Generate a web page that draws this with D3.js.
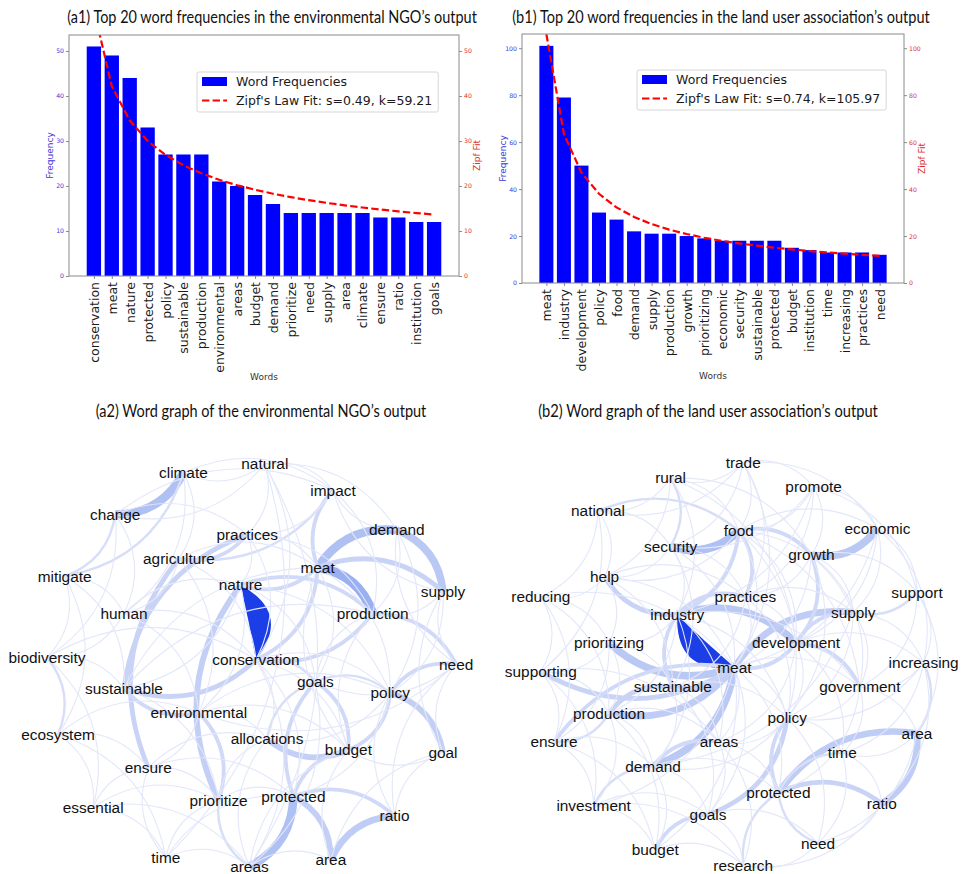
<!DOCTYPE html>
<html><head><meta charset="utf-8">
<script src="https://cdn.jsdelivr.net/npm/d3@7"></script>
<style>body{margin:0;background:#fff}svg{display:block}</style>
</head><body><svg id="c" width="961" height="874"></svg>
<script>
// ---------------- DATA ----------------
const wordsA = ["conservation","meat","nature","protected","policy","sustainable","production","environmental","areas","budget","demand","prioritize","need","supply","area","climate","ensure","ratio","institution","goals"];
const freqA  = [51,49,44,33,27,27,27,21,20,18,16,14,14,14,14,14,13,13,12,12];
const wordsB = ["meat","industry","development","policy","food","demand","supply","production","growth","prioritizing","economic","security","sustainable","protected","budget","institution","time","increasing","practices","need"];
const freqB  = [101,79,50,30,27,22,21,21,20,19,18,18,18,18,15,14,13,13,13,12];
const zipfS = [0.49, 0.74];
const zipfK = [59.21, 105.97];
const ticksA = [0,10,20,30,40,50];
const ticksB = [0,20,40,60,80,100];
const titles = ["(a1) Top 20 word frequencies in the environmental NGO\u2019s output",
                "(b1) Top 20 word frequencies in the land user association\u2019s output",
                "(a2) Word graph of the environmental NGO\u2019s output",
                "(b2) Word graph of the land user association\u2019s output"];

// graph A nodes: [word, layoutX, layoutY] in [-1,1]
const nodesA = [["climate",-0.28,0.86],["natural",0.09,0.90],["impact",0.40,0.78],["change",-0.59,0.67],
["demand",0.69,0.60],["practices",0.01,0.58],["agriculture",-0.30,0.47],["meat",0.33,0.43],["mitigate",-0.82,0.39],
["supply",0.90,0.32],["nature",-0.02,0.35],["human",-0.55,0.22],["production",0.58,0.22],["biodiversity",-0.90,0.02],
["conservation",0.05,0.01],["need",0.96,-0.01],["goals",0.32,-0.09],["sustainable",-0.55,-0.12],["policy",0.66,-0.14],
["environmental",-0.21,-0.23],["ecosystem",-0.85,-0.33],["allocations",0.10,-0.35],["budget",0.47,-0.40],["goal",0.90,-0.41],
["ensure",-0.44,-0.48],["prioritize",-0.12,-0.63],["protected",0.22,-0.61],["essential",-0.69,-0.66],["ratio",0.68,-0.70],
["time",-0.36,-0.89],["areas",0.02,-0.93],["area",0.39,-0.90]];
const edgesA = [["nature","conservation",20],["climate","change",8],["meat","production",10],["meat","demand",8],
["demand","supply",7],["meat","supply",4],["protected","areas",8],["area","ratio",6],["protected","area",5],
["protected","ratio",3],["policy","goal",5],["prioritize","nature",5],["budget","allocations",5],["sustainable","practices",4],
["ensure","agriculture",4],["environmental","sustainable",3],["conservation","sustainable",4],["goals","budget",3],
["meat","impact",3],["production","need",3],["meat","nature",3],["production","conservation",3],["meat","conservation",3],
["nature","production",3],["biodiversity","ecosystem",2],["change","mitigate",2],["climate","mitigate",2],["policy","need",3],
["policy","budget",3],["protected","goals",3],["protected","budget",3],["areas","prioritize",2],["practices","agriculture",3],
["impact","agriculture",2],["conservation","goals",2],["environmental","prioritize",3],["goals","policy",2],["allocations","goals",2],
["natural","impact",1],["natural","climate",1],["natural","practices",1],["natural","conservation",1],["natural","change",1],
["natural","demand",1],["natural","areas",1],["natural","time",1],["climate","human",1],["climate","impact",1],["climate","agriculture",1],
["change","human",1],["change","biodiversity",1],["change","impact",1],["change","practices",1],["mitigate","biodiversity",1],
["mitigate","human",1],["mitigate","ecosystem",1],["mitigate","sustainable",1],["human","biodiversity",1],["human","environmental",1],
["human","nature",1],["human","conservation",1],["biodiversity","conservation",1],["biodiversity","essential",1],["biodiversity","sustainable",1],
["ecosystem","essential",1],["ecosystem","environmental",1],["ecosystem","ensure",1],["ecosystem","time",1],["essential","time",1],
["essential","ensure",1],["essential","areas",1],["essential","prioritize",1],["time","areas",1],["time","prioritize",1],["time","ensure",1],
["time","protected",1],["areas","area",1],["areas","allocations",1],["areas","budget",1],["area","goal",1],["area","budget",1],
["ratio","goal",1],["ratio","policy",1],["ratio","need",1],["goal","need",1],["goal","budget",1],["goal","supply",1],["need","supply",1],
["need","demand",1],["need","goals",1],["need","environmental",1],["supply","production",1],["supply","policy",1],["supply","impact",1],
["demand","production",1],["demand","impact",1],["demand","policy",1],["impact","production",1],["impact","practices",1],
["practices","meat",1],["practices","conservation",1],["practices","production",1],["practices","nature",1],["agriculture","meat",1],
["agriculture","conservation",1],["agriculture","human",1],["agriculture","environmental",1],["nature","sustainable",1],
["nature","environmental",1],["nature","goals",1],["nature","policy",1],["conservation","policy",1],["conservation","allocations",1],
["conservation","budget",1],["conservation","areas",1],["conservation","protected",1],["environmental","allocations",1],
["environmental","policy",1],["environmental","ensure",1],["environmental","budget",1],["sustainable","prioritize",1],
["sustainable","production",1],["sustainable","meat",1],["goals","production",1],["goals","areas",1],["policy","allocations",1],
["policy","protected",1],["budget","production",1],["budget","meat",1],["ensure","prioritize",1],["ensure","protected",1],
["ensure","allocations",1],["prioritize","protected",1],["prioritize","allocations",1],["meat","goals",1],["meat","policy",1]];

const nodesB = [["trade",0.06,0.92],["rural",-0.27,0.85],["promote",0.38,0.81],["national",-0.60,0.70],["food",0.04,0.61],
["economic",0.67,0.62],["security",-0.27,0.54],["growth",0.37,0.50],["help",-0.57,0.40],["reducing",-0.86,0.31],
["support",0.85,0.33],["practices",0.07,0.31],["industry",-0.24,0.23],["supply",0.56,0.24],["prioritizing",-0.55,0.10],
["development",0.30,0.10],["increasing",0.88,0.01],["supporting",-0.86,-0.03],["meat",0.02,-0.01],["sustainable",-0.26,-0.10],
["government",0.59,-0.10],["production",-0.55,-0.22],["policy",0.26,-0.24],["ensure",-0.80,-0.35],["areas",-0.05,-0.35],
["area",0.85,-0.31],["time",0.51,-0.40],["demand",-0.35,-0.46],["protected",0.22,-0.58],["investment",-0.62,-0.64],
["goals",-0.10,-0.68],["ratio",0.69,-0.63],["need",0.40,-0.81],["budget",-0.34,-0.84],["research",0.06,-0.91]];
const edgesB = [["meat","industry",20],["food","security",8],["economic","growth",7],["industry","development",7],
["meat","supply",6],["meat","prioritizing",7],["meat","production",6],["meat","demand",7],["meat","sustainable",5],
["protected","area",6],["area","ratio",6],["protected","ratio",4],["policy","goals",4],["meat","supporting",4],
["industry","help",4],["ensure","meat",3],["production","sustainable",4],["budget","goals",3],["demand","areas",3],
["development","government",3],["development","supply",3],["food","growth",3],["food","practices",3],["food","industry",3],
["growth","development",3],["rural","security",2],["protected","time",2],["protected","policy",3],["increasing","area",2],
["support","supply",2],["need","protected",2],["research","protected",2],["investment","demand",2],["national","food",2],
["industry","practices",3],["development","meat",3],["sustainable","industry",3],["production","ensure",2],
["trade","rural",1],["trade","promote",1],["trade","food",1],["trade","security",1],["trade","practices",1],["trade","economic",1],
["trade","national",1],["trade","meat",1],["rural","national",1],["rural","food",1],["rural","help",1],["rural","industry",1],
["rural","development",1],["rural","growth",1],["promote","food",1],["promote","growth",1],["promote","economic",1],
["promote","practices",1],["promote","security",1],["promote","industry",1],["promote","support",1],["national","security",1],
["national","help",1],["national","reducing",1],["national","supporting",1],["food","economic",1],["food","supply",1],
["food","development",1],["food","meat",1],["food","help",1],["food","government",1],["food","policy",1],["economic","supply",1],
["economic","support",1],["economic","development",1],["economic","meat",1],["economic","increasing",1],["security","help",1],
["security","industry",1],["security","meat",1],["security","practices",1],["security","sustainable",1],["growth","supply",1],
["growth","meat",1],["growth","practices",1],["growth","government",1],["growth","support",1],["growth","policy",1],
["help","reducing",1],["help","prioritizing",1],["help","meat",1],["help","sustainable",1],["help","practices",1],
["reducing","prioritizing",1],["reducing","supporting",1],["reducing","meat",1],["reducing","production",1],["reducing","ensure",1],
["support","increasing",1],["support","government",1],["support","area",1],["practices","meat",1],["practices","development",1],
["practices","sustainable",1],["practices","supply",1],["practices","policy",1],["industry","prioritizing",1],["industry","production",1],
["industry","policy",1],["industry","areas",1],["industry","demand",1],["industry","government",1],["supply","government",1],
["supply","increasing",1],["supply","demand",1],["supply","policy",1],["prioritizing","supporting",1],["prioritizing","sustainable",1],
["prioritizing","production",1],["prioritizing","ensure",1],["development","policy",1],["development","areas",1],
["development","increasing",1],["development","time",1],["increasing","government",1],["increasing","ratio",1],["increasing","time",1],
["increasing","policy",1],["supporting","production",1],["supporting","ensure",1],["supporting","investment",1],["supporting","areas",1],
["meat","government",1],["meat","policy",1],["meat","areas",1],["meat","goals",1],["meat","budget",1],["meat","protected",1],
["meat","investment",1],["sustainable","areas",1],["sustainable","demand",1],["sustainable","goals",1],["sustainable","policy",1],
["government","policy",1],["government","time",1],["government","area",1],["government","protected",1],["production","demand",1],
["production","investment",1],["production","areas",1],["production","budget",1],["policy","areas",1],["policy","time",1],
["policy","need",1],["policy","demand",1],["ensure","investment",1],["ensure","demand",1],["ensure","budget",1],["areas","protected",1],
["areas","goals",1],["areas","research",1],["area","time",1],["area","need",1],["time","ratio",1],["time","need",1],["demand","goals",1],
["demand","budget",1],["demand","protected",1],["investment","budget",1],["investment","goals",1],["investment","research",1],
["goals","research",1],["goals","need",1],["ratio","need",1],["ratio","research",1],["need","research",1],["budget","research",1]];

// ---------------- DRAWING ----------------
const svg = d3.select("#c");
svg.append("rect").attr("width",961).attr("height",874).attr("fill","#fff");
const BLUE_T = "#3a3ad6", RED_T = "#d83232";

function fitTitle(txt, cx, by, target, fs){
  const t = svg.append("text").attr("x",0).attr("y",0).attr("text-anchor","middle")
    .attr("font-family","Lato, 'Open Sans', sans-serif").attr("font-size",fs).attr("fill","#111").text(txt);
  const w = t.node().getComputedTextLength();
  t.attr("transform",`translate(${cx},${by}) scale(${target/w},1)`);
}

function barChart(o){
  const g = svg.append("g");
  const x = d3.scaleLinear().domain([-1.39,20.39]).range([o.x0,o.x1]);
  const y = d3.scaleLinear().domain([0,d3.max(o.freq)*1.05]).range([o.y1,o.y0]);
  const cid = "clip"+o.id;
  svg.append("clipPath").attr("id",cid).append("rect")
    .attr("x",o.x0).attr("y",o.y0).attr("width",o.x1-o.x0).attr("height",o.y1-o.y0);
  g.selectAll("rect.bar").data(o.freq).join("rect").attr("class","bar")
    .attr("x",(d,i)=>x(i-0.4)).attr("width",x(0.8)-x(0))
    .attr("y",d=>y(d)).attr("height",d=>y(0)-y(d)).attr("fill","#0000ff");
  const zd = o.freq.map((d,i)=>[i, o.k/Math.pow(i+1,o.s)]);
  g.append("path").attr("clip-path","url(#"+cid+")")
    .attr("d", d3.line().x(d=>x(d[0])).y(d=>y(d[1]))(zd))
    .attr("fill","none").attr("stroke","#ff0000").attr("stroke-width",2.2).attr("stroke-dasharray","7.4,3.2");
  g.append("rect").attr("x",o.x0).attr("y",o.y0).attr("width",o.x1-o.x0).attr("height",o.y1-o.y0)
    .attr("fill","none").attr("stroke","#8a8a8a").attr("stroke-width",1);
  const la = g.append("g").attr("transform",`translate(${o.x0},0)`)
    .call(d3.axisLeft(y).tickValues(o.ticks).tickSize(3).tickPadding(2));
  la.select(".domain").remove();
  la.selectAll("line").attr("stroke","#8a8a8a");
  la.selectAll("text").attr("fill",BLUE_T).attr("font-size",6.2).attr("font-family","DejaVu Sans");
  const ra = g.append("g").attr("transform",`translate(${o.x1},0)`)
    .call(d3.axisRight(y).tickValues(o.ticks).tickSize(3).tickPadding(2));
  ra.select(".domain").remove();
  ra.selectAll("line").attr("stroke","#8a8a8a");
  ra.selectAll("text").attr("fill",RED_T).attr("font-size",6.2).attr("font-family","DejaVu Sans");
  const ba = g.append("g").attr("transform",`translate(0,${o.y1})`)
    .call(d3.axisBottom(x).tickValues(d3.range(o.words.length)).tickSize(3).tickFormat(i=>o.words[i]));
  ba.select(".domain").remove();
  ba.selectAll("line").attr("stroke","#8a8a8a");
  ba.selectAll("text").attr("transform","rotate(-90)").attr("x",-6).attr("y",0).attr("dy","0.36em")
    .attr("text-anchor","end").attr("font-size",12.5).attr("font-family","DejaVu Sans").attr("fill","#1a1a1a");
  const my = (o.y0+o.y1)/2;
  g.append("text").attr("transform",`translate(${o.x0-16},${my}) rotate(-90)`).attr("text-anchor","middle")
    .attr("font-family","DejaVu Sans").attr("font-size",9).attr("fill",BLUE_T).text("Frequency");
  g.append("text").attr("transform",`translate(${o.x1+21},${my}) rotate(-90)`).attr("text-anchor","middle")
    .attr("font-family","DejaVu Sans").attr("font-size",9).attr("fill",RED_T).text("Zipf Fit");
  g.append("text").attr("x",(o.x0+o.x1)/2).attr("y",o.wordsY).attr("text-anchor","middle")
    .attr("font-family","DejaVu Sans").attr("font-size",9).attr("fill","#333").text("Words");
  const lg = g.append("g").attr("transform",`translate(${o.lx},${o.ly})`);
  const box = lg.append("rect").attr("x",0).attr("y",0).attr("height",40).attr("rx",2)
    .attr("fill","#fff").attr("stroke","#d6d6d6");
  lg.append("rect").attr("x",5).attr("y",5).attr("width",25).attr("height",9).attr("fill","#0000ff");
  lg.append("line").attr("x1",5).attr("x2",30).attr("y1",28.5).attr("y2",28.5)
    .attr("stroke","#ff0000").attr("stroke-width",2.2).attr("stroke-dasharray","7.4,3.2");
  const t1 = lg.append("text").attr("x",39).attr("y",14).attr("font-family","DejaVu Sans").attr("font-size",12.5)
    .attr("fill","#1a1a1a").text("Word Frequencies");
  const t2 = lg.append("text").attr("x",39).attr("y",33).attr("font-family","DejaVu Sans").attr("font-size",12.5)
    .attr("fill","#1a1a1a").text(`Zipf's Law Fit: s=${o.s.toFixed(2)}, k=${o.k.toFixed(2)}`);
  const tw = Math.max(t1.node().getComputedTextLength(), t2.node().getComputedTextLength());
  box.attr("width", 39+tw+6);
}

barChart({id:"a",words:wordsA,freq:freqA,s:zipfS[0],k:zipfK[0],ticks:ticksA,x0:69,x1:459,y0:35,y1:276,wordsY:380,lx:197,ly:72});
barChart({id:"b",words:wordsB,freq:freqB,s:zipfS[1],k:zipfK[1],ticks:ticksB,x0:522,x1:904,y0:34,y1:283,wordsY:379,lx:637,ly:70});

fitTitle(titles[0],272,23,410,17);
fitTitle(titles[1],721,23,418,17);
fitTitle(titles[2],261,417,331,16.5);
fitTitle(titles[3],708,417,340,16.5);

// network graphs
const RAD = 0.3;
const wScale = d3.scaleLinear().domain([1,2,3,5,8,10]).range([1.1,2.4,3.8,5.8,8.5,9.5]).clamp(true);
const cScale = d3.scaleLinear().domain([1,2,4,7,10,20])
  .range(["#e3e7f9","#d7def8","#c8d3f6","#bac8f4","#9ab0f0","#1b3ee6"]).clamp(true);

function ctrl(s,t,extra){
  const dx=t[0]-s[0], dy=t[1]-s[1], L=Math.hypot(dx,dy);
  const nx=dy/L, ny=-dx/L, mx=(s[0]+t[0])/2, my=(s[1]+t[1])/2, a=RAD*L+extra;
  return [mx+nx*a, my+ny*a];
}
function edgePath(s,t,w,heavy){
  const p = d3.path();
  p.moveTo(s[0],s[1]);
  if(heavy){
    const c1=ctrl(s,t,w), c2=ctrl(s,t,-w);
    p.quadraticCurveTo(c1[0],c1[1],t[0],t[1]);
    p.quadraticCurveTo(c2[0],c2[1],s[0],s[1]);
    p.closePath();
  } else {
    const c=ctrl(s,t,0);
    p.quadraticCurveTo(c[0],c[1],t[0],t[1]);
  }
  return p.toString();
}

function graph(o){
  const g = svg.append("g");
  const x = d3.scaleLinear().domain([-1,1]).range([o.cx-o.r,o.cx+o.r]);
  const y = d3.scaleLinear().domain([-1,1]).range([o.cy+o.r,o.cy-o.r]);
  const pos = new Map(o.nodes.map(n=>[n[0],[x(n[1]),y(n[2])]]));
  const edges = o.edges.slice().sort((a,b)=>b[2]-a[2]);
  g.selectAll("path").data(edges).join("path")
    .attr("d",e=>edgePath(pos.get(e[0]),pos.get(e[1]),e[2]>=15?22:wScale(e[2]),e[2]>=15))
    .attr("fill",e=>e[2]>=15?cScale(e[2]):"none")
    .attr("stroke",e=>e[2]>=15?"none":cScale(e[2]))
    .attr("stroke-width",e=>wScale(e[2]));
  g.selectAll("text").data(o.nodes).join("text")
    .attr("x",n=>x(n[1])).attr("y",n=>y(n[2])).attr("dy","0.35em")
    .attr("text-anchor","middle").attr("font-family","'Liberation Sans', Arial, sans-serif")
    .attr("font-size",15.4).attr("fill","#111").text(n=>n[0]);
}
graph({nodes:nodesA,edges:edgesA,cx:245,cy:662,r:220});
graph({nodes:nodesB,edges:edgesB,cx:730,cy:665,r:220});
</script></body></html>
